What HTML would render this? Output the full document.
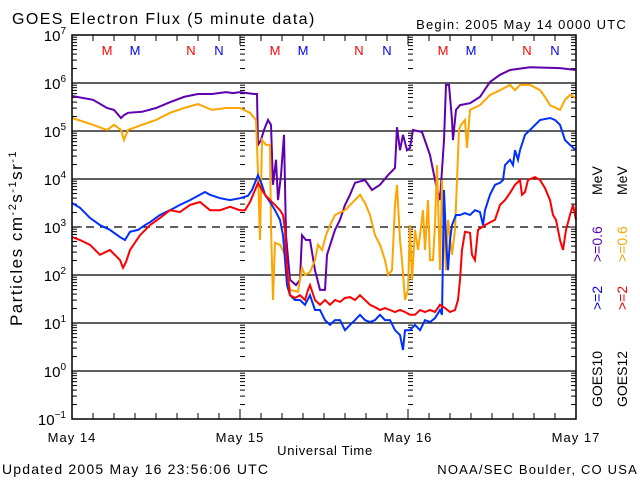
<!DOCTYPE html>
<html><head><meta charset="utf-8"><style>
body{margin:0;background:#fff;}
svg text{font-family:"Liberation Sans",sans-serif;}
</style></head><body>
<svg id="chart" width="640" height="480" xmlns="http://www.w3.org/2000/svg">
<rect width="640" height="480" fill="#fff"/>
<text x="12" y="24" font-size="16" letter-spacing="1.4">GOES Electron Flux (5 minute data)</text>
<text x="627" y="29" font-size="13" letter-spacing="1.2" text-anchor="end">Begin: 2005 May 14 0000 UTC</text>
<text transform="translate(22,238) rotate(-90)" font-size="17" letter-spacing="1.5" text-anchor="middle">Particles cm<tspan font-size="11" dy="-6">-2</tspan><tspan dy="6">s</tspan><tspan font-size="11" dy="-6">-1</tspan><tspan dy="6">sr</tspan><tspan font-size="11" dy="-6">-1</tspan></text>
<text x="325" y="455" font-size="13" letter-spacing="0.7" text-anchor="middle">Universal Time</text>
<text x="2" y="474" font-size="14" letter-spacing="1.2">Updated 2005 May 16 23:56:06 UTC</text>
<text x="638" y="474" font-size="13" letter-spacing="1.2" text-anchor="end">NOAA/SEC Boulder, CO USA</text>
<g id="grid"></g><g id="ticks"></g><g id="series"></g><g id="labels"></g>
<rect x="72" y="35" width="504" height="384" fill="none" stroke="#000" stroke-width="1.5"/>
<g font-size="14">
<text transform="translate(602,407) rotate(-90)">GOES10</text>
<text transform="translate(602,310) rotate(-90)" fill="#0000ff">&gt;=2</text>
<text transform="translate(602,262) rotate(-90)" fill="#6000b0">&gt;=0.6</text>
<text transform="translate(602,195) rotate(-90)">MeV</text>
<text transform="translate(627,407) rotate(-90)">GOES12</text>
<text transform="translate(627,310) rotate(-90)" fill="#ff0000">&gt;=2</text>
<text transform="translate(627,262) rotate(-90)" fill="#ffa500">&gt;=0.6</text>
<text transform="translate(627,195) rotate(-90)">MeV</text>
</g>
</svg>
<script>
const dayLabels=["May 14","May 15","May 16","May 17"];
const decades=[-1,0,1,2,3,4,5,6,7];
const markerHours=[5,9,17,21,29,33,41,45,53,57,65,69];
const markerText=["M","M","N","N","M","M","N","N","M","M","N","N"];
const markerSat=[12,10,12,10,12,10,12,10,12,10,12,10];
const purpleT=[0,3,5,6,7,7.43,8,10,12,14,16,18,20,22,23,24,26,26.43,26.57,27,27.43,28,28.43,28.71,29.14,29.43,29.86,30.29,30.57,31.14,32,32.57,32.86,33.43,34,34.71,35.43,36.14,36.43,37.57,38.29,39,39.71,40.43,41.86,42.86,44,45.14,46.14,46.43,46.86,47.29,47.86,48.29,48.71,50,51.14,52,52.57,53.14,53.43,53.86,54.29,54.43,54.86,55.43,56.86,58.29,59.71,61.14,62.57,65.43,69.71,72];
const purpleV=[5.73,5.65,5.48,5.44,5.27,5.33,5.38,5.40,5.48,5.60,5.71,5.77,5.77,5.81,5.79,5.81,5.77,5.77,4.71,4.81,5.02,5.23,5.13,3.88,4.40,3.56,4.08,4.92,2.83,1.90,1.79,1.90,2.83,2.73,2.73,2.10,1.69,1.69,2.42,2.94,3.15,3.46,3.67,3.92,3.98,3.77,3.88,4.08,4.23,5.08,4.60,4.92,4.60,4.65,5.02,4.98,4.50,3.88,3.56,4.81,5.96,5.96,5.23,4.81,5.44,5.54,5.58,5.71,6.02,6.17,6.27,6.33,6.31,6.27];
const orangeT=[0,3,5,6,7,7.43,8,10,12,14,16,18,20,22,24,25.43,26.29,26.57,26.86,27.14,27.71,28.29,28.43,28.71,29,29.71,30.43,31.14,32.29,32.86,33.29,34,34.71,35.14,35.71,36.29,36.86,37.57,39,40.43,41.14,41.86,42.57,43.29,44,44.71,45.14,45.71,46.14,46.43,46.86,47.14,47.57,48,48.29,48.57,49,49.43,49.71,50.14,50.43,50.86,51.14,51.57,51.86,52.14,52.57,52.86,53.14,53.43,53.71,54.29,54.71,55,55.29,55.57,56.14,56.43,56.86,58.29,59.71,61.14,62.57,63.29,64,65.43,66.86,67.57,68.29,69.71,70.43,71.14,72];
const orangeV=[5.27,5.13,5.02,5.13,5.02,4.81,5.02,5.13,5.23,5.38,5.48,5.56,5.44,5.48,5.48,5.38,5.23,4.13,2.73,4.81,4.71,4.71,3.0,1.48,2.67,2.63,2.42,1.69,1.65,2.15,2.0,2.06,2.31,2.63,2.52,2.83,3.04,3.25,3.35,3.56,3.67,3.50,3.25,2.83,2.63,2.31,2.0,2.10,3.46,3.88,2.73,2.31,1.48,1.69,3.04,1.90,2.94,2.52,2.83,3.35,2.52,3.56,2.31,2.31,3.04,4.29,2.10,3.98,2.94,2.10,3.15,2.42,2.94,3.98,5.02,5.13,5.23,4.65,5.44,5.54,5.75,5.85,5.96,5.85,5.96,5.96,5.85,5.71,5.54,5.44,5.65,5.75,5.69];
const blueT=[0,1.14,2.57,4,5.43,6.86,7.57,8.29,9.43,10.43,11.14,12.57,14,15.43,16.86,19,19.71,21.14,22.57,24,25.14,25.71,26.57,27.14,27.57,28.29,29,29.71,30.14,30.43,30.71,31.14,31.86,32.57,33.29,34,34.71,35.43,36.14,36.86,37.57,38.29,39,39.71,40.43,41.14,41.86,42.57,43.29,44,44.71,45.43,46.14,46.86,47.29,47.57,48.29,49,49.71,50.43,51.14,51.86,52.57,52.86,53.14,53.43,53.71,54,54.29,54.86,55.43,56.14,56.86,57.57,58.29,58.71,59,59.71,60.43,61.14,61.57,61.86,62.57,63,63.29,63.71,64,64.71,65.43,66.86,68.29,69,69.71,70.43,71.14,72];
const blueV=[3.50,3.40,3.19,3.04,2.94,2.79,2.73,2.90,2.94,3.04,3.10,3.25,3.35,3.46,3.56,3.73,3.67,3.60,3.56,3.60,3.65,3.77,4.08,3.88,3.67,3.52,3.35,3.15,2.83,2.31,1.79,1.58,1.48,1.48,1.38,1.58,1.27,1.27,1.06,0.96,1.06,1.06,0.85,0.96,1.06,1.17,1.06,1.02,1.06,1.17,1.06,1.06,0.85,0.75,0.44,0.85,0.85,0.96,0.85,1.06,1.02,1.10,1.27,1.17,3.77,2.73,2.10,2.73,3.04,3.25,3.25,3.29,3.25,3.35,3.31,3.04,3.35,3.67,3.88,3.92,3.98,4.29,4.40,4.29,4.60,4.40,4.60,4.92,5.02,5.23,5.27,5.23,5.13,4.81,4.71,4.60];
const redT=[0,1.14,2.57,4,5.43,6.86,7.29,7.71,8.29,9.71,11.14,12.57,14,15.43,16.86,18.29,19.71,21.14,22.57,24,24.71,25.43,26.14,26.57,27.14,27.57,28.29,29,29.71,30.14,30.43,30.71,31.14,31.86,32.57,33.29,33.71,34,34.71,35.43,36.14,36.86,37.57,38.29,39,39.71,40.43,41.14,41.86,42.57,43.29,44,44.71,45.43,46.14,46.86,47.57,48.29,49,49.71,50.43,51.14,51.86,52.57,53.29,54,54.71,55.14,55.43,55.71,56.14,56.86,57.14,57.57,58,59,60.43,61.14,61.86,62.57,63.29,64,64.29,64.71,65.14,66.14,66.86,67.57,68.29,68.71,69.14,69.71,70.14,70.57,71.14,71.57,72];
const redV=[2.79,2.73,2.63,2.42,2.52,2.31,2.15,2.27,2.52,2.83,3.04,3.19,3.35,3.31,3.46,3.52,3.35,3.35,3.42,3.35,3.35,3.52,3.77,3.92,3.77,3.67,3.56,3.46,3.35,3.25,2.94,2.10,1.58,1.52,1.58,1.48,1.69,1.79,1.48,1.38,1.48,1.38,1.48,1.44,1.52,1.54,1.48,1.58,1.48,1.38,1.33,1.27,1.31,1.27,1.23,1.27,1.23,1.17,1.17,1.27,1.23,1.27,1.23,1.38,1.31,1.23,1.27,1.48,1.90,2.52,2.90,2.88,2.42,2.31,2.94,3.04,3.15,3.46,3.56,3.71,3.88,3.98,3.67,3.73,3.98,4.04,3.98,3.81,3.56,3.25,3.15,2.73,2.52,2.94,3.25,3.46,3.15];

const NS="http://www.w3.org/2000/svg";
const X0=72,X1=576,Y0=419,Y1=35,HMAX=72,VMIN=-1,VMAX=7;
function xs(h){return X0+(h/HMAX)*(X1-X0);}
function ys(v){return Y0-(v-VMIN)/(VMAX-VMIN)*(Y0-Y1);}
function mk(tag,attrs,parent){const e=document.createElementNS(NS,tag);for(const k in attrs)e.setAttribute(k,attrs[k]);parent.appendChild(e);return e;}
const grid=document.getElementById('grid'),ticks=document.getElementById('ticks'),series=document.getElementById('series'),labels=document.getElementById('labels');

decades.forEach(d=>{
  const y=ys(d);
  if(d>VMIN&&d<VMAX){
    const g=mk('line',{x1:X0,x2:X1,y1:y,y2:y,stroke:'#000','stroke-width':1.3},grid);
    if(d===3)g.setAttribute('stroke-dasharray','8,6');
    
    
  }
  const t=mk('text',{x:66,y:y+6,'font-size':15,'text-anchor':'end'},labels);
  
  
  t.textContent='10';
  const s=mk('tspan',{'font-size':10,dy:-7},t);s.textContent=String(d).replace('-','\u2212');
  if(d<VMAX){
    for(let m=2;m<=9;m++){
      const yy=ys(d+Math.log10(m));
      [[X0,X0+5],[X1-5,X1],[240,245],[408,413]].forEach(p=>{
        const l=mk('line',{x1:p[0],x2:p[1],y1:yy,y2:yy,stroke:'#000','stroke-width':1},ticks);
        
        
      });
    }
  }
  [[X0,X0+10],[X1-10,X1],[236,244],[404,412]].forEach(p=>{
    const l=mk('line',{x1:p[0],x2:p[1],y1:y,y2:y,stroke:'#000','stroke-width':1},ticks);
    
    
  });
});
for(let h=3;h<HMAX;h+=3){
  const x=xs(h),len=(h%24===0)?10:6;
  const a=mk('line',{x1:x,x2:x,y1:Y0,y2:Y0-len,stroke:'#000','stroke-width':1},ticks);
  
  
  const b=mk('line',{x1:x,x2:x,y1:Y1,y2:Y1+len,stroke:'#000','stroke-width':1},ticks);
  
  
}
dayLabels.forEach((s,i)=>{
  const t=mk('text',{x:xs(i*24),y:442,'font-size':13,'letter-spacing':1,'text-anchor':'middle'},labels);
  
  
  t.textContent=s;
});
markerHours.forEach((h,i)=>{
  const t=mk('text',{x:xs(h),y:55,'font-size':13,'text-anchor':'middle',fill:markerSat[i]===12?'#ff0000':'#0000ff'},labels);
  
  
  t.textContent=markerText[i];
});
function draw(T,V,color,name){
  let d='';
  T.forEach((h,i)=>{d+=(i?'L':'M')+xs(h).toFixed(1)+','+ys(V[i]).toFixed(1);});
  const p=mk('path',{d:d,fill:'none',stroke:color,'stroke-width':2,'stroke-linejoin':'miter'},series);
  
  
}
draw(purpleT,purpleV,'#6000b0','series-goes10-ge06');
draw(orangeT,orangeV,'#ffa500','series-goes12-ge06');
draw(blueT,blueV,'#0030ff','series-goes10-ge2');
draw(redT,redV,'#ff0000','series-goes12-ge2');
</script>
</body></html>
